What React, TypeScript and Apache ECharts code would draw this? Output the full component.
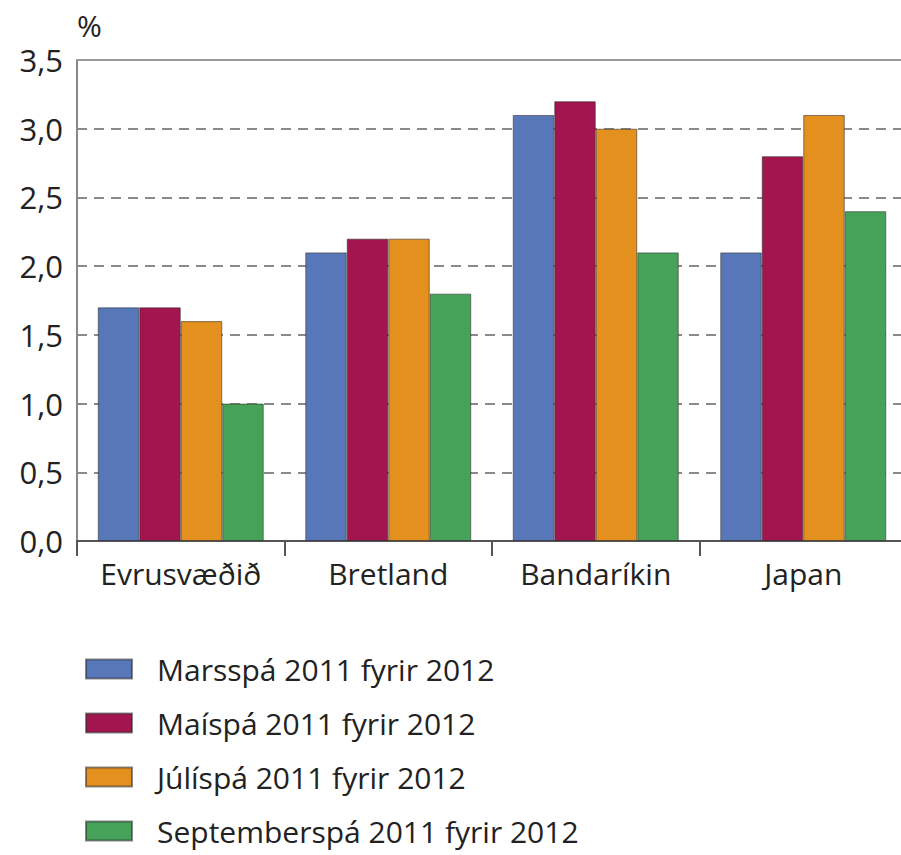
import React, { useEffect, useRef } from "react";
import * as echarts from "echarts";

// Forecast of GDP growth for 2012, by region and forecast vintage (%)
const regions = ["Evrusvæðið", "Bretland", "Bandaríkin", "Japan"];
const seriesNames = [
  "Marsspá 2011 fyrir 2012",
  "Maíspá 2011 fyrir 2012",
  "Júlíspá 2011 fyrir 2012",
  "Septemberspá 2011 fyrir 2012",
];
const marchForecast = [1.7, 2.1, 3.1, 2.1];
const mayForecast = [1.7, 2.2, 3.2, 2.8];
const julyForecast = [1.6, 2.2, 3.0, 3.1];
const septemberForecast = [1.0, 1.8, 2.1, 2.4];
const seriesColors = ["#5877B9", "#A3154F", "#E3901F", "#46A259"];

const FONT = "'Open Sans', 'DejaVu Sans', sans-serif";

export default function App() {
  const ref = useRef<HTMLDivElement>(null);

  useEffect(() => {
    if (!ref.current) return;
    const chart = echarts.init(ref.current, null, { renderer: "svg" });
    const values = [marchForecast, mayForecast, julyForecast, septemberForecast];

    chart.setOption({
      animation: false,
      backgroundColor: "#ffffff",
      textStyle: { fontFamily: FONT },
      grid: { left: 77, top: 60, right: 3, bottom: 314, containLabel: false },
      legend: {
        orient: "vertical",
        left: 80,
        top: 649,
        height: 260,
        itemWidth: 46,
        itemHeight: 19,
        itemGap: 24,
        icon: "rect",
        selectedMode: false,
        textStyle: {
          fontFamily: FONT,
          fontSize: 30,
          color: "#222",
          lineHeight: 30,
          padding: [0, 0, 0, 20],
        },
        data: seriesNames,
      },
      xAxis: [
        {
          type: "category",
          data: regions,
          position: "bottom",
          axisLine: { show: true, lineStyle: { color: "#555", width: 2 } },
          axisTick: {
            show: true,
            interval: 0,
            length: 15,
            lineStyle: { color: "#555", width: 2 },
          },
          axisLabel: {
            interval: 0,
            fontSize: 30,
            color: "#222",
            margin: 17,
            fontFamily: FONT,
          },
        },
        {
          type: "category",
          data: regions,
          position: "top",
          axisLine: { show: true, lineStyle: { color: "#999", width: 2 } },
          axisTick: { show: false },
          axisLabel: { show: false },
        },
      ],
      yAxis: {
        type: "value",
        min: 0,
        max: 3.5,
        interval: 0.5,
        name: "%",
        nameLocation: "end",
        nameGap: 20,
        nameTextStyle: {
          fontSize: 30,
          color: "#222",
          align: "left",
          verticalAlign: "bottom",
          fontFamily: FONT,
        },
        axisLine: { show: true, lineStyle: { color: "#888", width: 2 } },
        axisTick: { show: false },
        axisLabel: {
          fontSize: 31,
          color: "#222",
          margin: 14,
          fontFamily: FONT,
          formatter: (v: number) => v.toFixed(1).replace(".", ","),
        },
        splitLine: {
          show: true,
          lineStyle: { color: "#8a8a8a", width: 2, type: [10, 7] },
        },
      },
      series: seriesNames.map((name, i) => ({
        name,
        type: "bar",
        data: values[i],
        barGap: "0%",
        barCategoryGap: "20%",
        itemStyle: {
          color: seriesColors[i],
          borderColor: "rgba(40,40,40,0.55)",
          borderWidth: 1,
        },
      })),
    });

    return () => chart.dispose();
  }, []);

  return (
    <div
      style={{
        position: "fixed",
        left: 0,
        top: 0,
        width: 901,
        height: 855,
        overflow: "hidden",
        background: "#fff",
      }}
    >
      <div ref={ref} style={{ width: 910, height: 855 }} />
    </div>
  );
}
